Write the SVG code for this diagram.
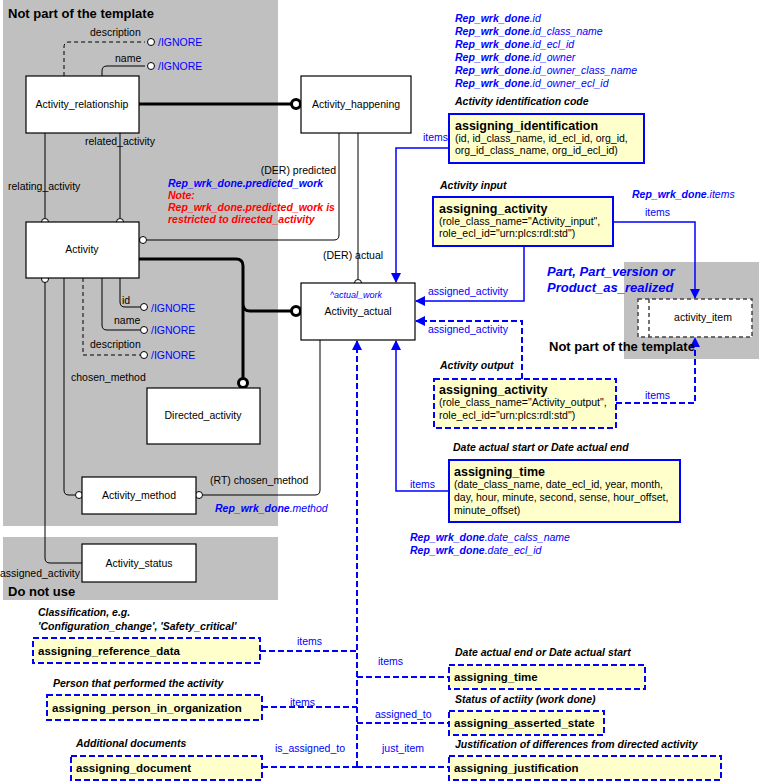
<svg xmlns="http://www.w3.org/2000/svg" width="760" height="781" viewBox="0 0 760 781">
<style>
text{font-family:"Liberation Sans",Arial,sans-serif;font-size:10.5px;fill:#000}
.bg{fill:#c0c0c0}
.n{fill:#fff;stroke:#000;stroke-width:1.2}
.y{fill:#ffffcc;stroke:#0000ff;stroke-width:2}
.yd{fill:#ffffcc;stroke:#0000ff;stroke-width:2;stroke-dasharray:6,3}
.c{fill:none;stroke:#000;stroke-width:1}
.cd{fill:none;stroke:#000;stroke-width:1;stroke-dasharray:4,3}
.ct{fill:none;stroke:#000;stroke-width:3}
.b{fill:none;stroke:#0000ff;stroke-width:1.5}
.bd{fill:none;stroke:#0000ff;stroke-width:2;stroke-dasharray:6,3}
.o{fill:#fff;stroke:#000;stroke-width:1}
.O{fill:#fff;stroke:#000;stroke-width:3}
.bl{fill:#0000ff}
.bi{fill:#0000ff;font-style:italic}
.bb{font-weight:bold}
.hd{font-weight:bold;font-size:13px}
.it{font-style:italic;font-weight:bold;font-size:10.5px}
.red{fill:#ff0000;font-style:italic;font-weight:bold}
.tt{font-weight:bold;font-size:12.5px}
.c1{text-anchor:middle}
</style>
<defs>
<marker id="a" markerWidth="10" markerHeight="10" refX="9" refY="5" orient="auto" markerUnits="userSpaceOnUse"><path d="M0,0 L10,5 L0,10 z" fill="#0000ff"/></marker>
</defs>
<rect class="bg" x="3" y="0" width="275" height="526"/>
<rect class="bg" x="3" y="537" width="275" height="63"/>
<rect class="bg" x="624" y="262" width="135" height="97"/>
<text class="hd" x="8" y="18">Not part of the template</text>
<text class="hd" x="8" y="596">Do not use</text>
<text class="hd bi" x="547" y="276">Part, Part_version or</text>
<text class="hd bi" x="547" y="292">Product_as_realized</text>

<g id="connectors">
<path class="cd" d="M64,76 V47 Q64,42 69,42 H145"/><circle class="o" cx="151" cy="42" r="3.5"/>
<path class="c" d="M102,76 V71 Q102,66 107,66 H145"/><circle class="o" cx="151" cy="66" r="3.5"/>
<path class="ct" d="M139,104 H292"/><circle class="O" cx="296" cy="104" r="4.5"/>
<path class="c" d="M45,133 V218"/><circle class="o" cx="45" cy="222" r="3.5"/>
<path class="c" d="M120,133 V218"/><circle class="o" cx="120" cy="222" r="3.5"/>
<path class="c" d="M339,133 V235 Q339,240 334,240 H147"/><circle class="o" cx="143" cy="240" r="3.5"/>
<path class="c" d="M358,133 V279"/><circle class="o" cx="358" cy="283" r="3.5"/>
<path class="ct" d="M139,259 H236 Q243,259 243,266 V378 M243,304 Q243,311 250,311 H291"/>
<circle class="O" cx="243" cy="383" r="4.5"/><circle class="O" cx="296" cy="311" r="4.5"/>
<path class="c" d="M120,278 V302 Q120,307 125,307 H140"/><circle class="o" cx="144" cy="307" r="3.5"/>
<path class="c" d="M102,278 V325 Q102,330 107,330 H140"/><circle class="o" cx="144" cy="330" r="3.5"/>
<path class="cd" d="M83,278 V355 H140"/><circle class="o" cx="144" cy="355" r="3.5"/>
<path class="c" d="M64,278 V490 Q64,495 69,495 H75"/><circle class="o" cx="79" cy="495" r="3.5"/>
<path class="c" d="M45,282 V558 Q45,563 50,563 H82"/><circle class="o" cx="45" cy="279" r="3.5"/>
<path class="c" d="M320,340 V490 Q320,495 315,495 H203"/><circle class="o" cx="199" cy="495" r="3.5"/>
<path class="b" d="M449,148 H396 V282" marker-end="url(#a)"/>
<path class="b" d="M524,246 V301 H416" marker-end="url(#a)"/>
<path class="b" d="M613,222 H695 V298" marker-end="url(#a)"/>
<path class="bd" d="M522,379 V321 H416" marker-end="url(#a)"/>
<path class="bd" d="M616,403 H695 V338" marker-end="url(#a)"/>
<path class="b" d="M449,491 H396 V341" marker-end="url(#a)"/>
<path class="bd" d="M357,767 V341" marker-end="url(#a)"/>
<path class="bd" d="M260,651 H357 M357,677 H449 M262,707 H357 M357,723 H449 M262,767 H357 M357,767 H449"/>
</g>

<g id="activity_relationship"><rect class="n" x="26" y="76" width="113" height="57"/><text class="c1" x="82" y="108">Activity_relationship</text></g>
<g id="activity_happening"><rect class="n" x="301" y="76" width="110" height="57"/><text class="c1" x="356" y="108">Activity_happening</text></g>
<g id="activity"><rect class="n" x="26" y="222" width="113" height="56"/><text class="c1" x="82" y="253">Activity</text></g>
<g id="activity_actual"><rect class="n" x="301" y="283" width="114" height="57"/><text class="bi c1" x="356" y="298" style="font-size:9px">^actual_work</text><text class="c1" x="358" y="315">Activity_actual</text></g>
<g id="directed_activity"><rect class="n" x="147" y="388" width="113" height="56"/><text class="c1" x="203" y="419">Directed_activity</text></g>
<g id="activity_method"><rect class="n" x="82" y="477" width="114" height="37"/><text class="c1" x="139" y="499">Activity_method</text></g>
<g id="activity_status"><rect class="n" x="82" y="544" width="114" height="38"/><text class="c1" x="139" y="567">Activity_status</text></g>
<g id="activity_item"><rect x="638" y="299" width="114" height="38" fill="#fff" stroke="#444" stroke-width="1.5" stroke-dasharray="4,3"/><line x1="649" y1="299" x2="649" y2="337" stroke="#444" stroke-width="1.5" stroke-dasharray="4,3"/><text class="c1" x="703" y="321">activity_item</text></g>
<text class="hd" x="549" y="351">Not part of the template</text>

<g id="assigning_identification"><rect class="y" x="449" y="114" width="195" height="49"/><text class="tt" x="455" y="130">assigning_identification</text><text x="455" y="142">(id, id_class_name, id_ecl_id, org_id,</text><text x="455" y="154">org_id_class_name, org_id_ecl_id)</text></g>
<g id="assigning_activity_input"><rect class="y" x="433" y="197" width="180" height="49"/><text class="tt" x="439" y="213">assigning_activity</text><text x="439" y="225">(role_class_name="Activity_input",</text><text x="439" y="237">role_ecl_id="urn:plcs:rdl:std")</text></g>
<g id="assigning_activity_output"><rect class="yd" x="434" y="379" width="182" height="49"/><text class="tt" x="439" y="394">assigning_activity</text><text x="439" y="406">(role_class_name="Activity_output",</text><text x="439" y="419">role_ecl_id="urn:plcs:rdl:std")</text></g>
<g id="assigning_time_1"><rect class="y" x="449" y="460" width="231" height="62"/><text class="tt" x="454" y="476">assigning_time</text><text x="454" y="488">(date_class_name, date_ecl_id, year, month,</text><text x="454" y="501">day, hour, minute, second, sense, hour_offset,</text><text x="454" y="514">minute_offset)</text></g>
<g id="assigning_reference_data"><rect class="yd" x="33" y="638" width="227" height="25"/><text class="bb" x="38" y="655" style="font-size:11.5px">assigning_reference_data</text></g>
<g id="assigning_person_in_organization"><rect class="yd" x="47" y="695" width="215" height="25"/><text class="bb" x="52" y="712" style="font-size:11.5px">assigning_person_in_organization</text></g>
<g id="assigning_document"><rect class="yd" x="71" y="756" width="191" height="24"/><text class="bb" x="76" y="772" style="font-size:11.5px">assigning_document</text></g>
<g id="assigning_time_2"><rect class="yd" x="449" y="665" width="196" height="24"/><text class="bb" x="454" y="681" style="font-size:11.5px">assigning_time</text></g>
<g id="assigning_asserted_state"><rect class="yd" x="449" y="711" width="155" height="24"/><text class="bb" x="454" y="727" style="font-size:11.5px">assigning_asserted_state</text></g>
<g id="assigning_justification"><rect class="yd" x="449" y="756" width="272" height="24"/><text class="bb" x="454" y="772" style="font-size:11.5px">assigning_justification</text></g>

<g id="labels">
<text x="90" y="36">description</text><text class="bl" x="158" y="46">/IGNORE</text>
<text x="115" y="62">name</text><text class="bl" x="158" y="70">/IGNORE</text>
<text x="85" y="145">related_activity</text>
<text x="8" y="190">relating_activity</text>
<text x="336" y="174" text-anchor="end">(DER) predicted</text>
<text class="bi" x="168" y="187"><tspan class="bb">Rep_wrk_done.predicted_work</tspan></text>
<text class="red" x="168" y="199">Note:</text>
<text class="red" x="168" y="211">Rep_wrk_done.predicted_work is</text>
<text class="red" x="168" y="223">restricted to directed_activity</text>
<text x="323" y="259">(DER) actual</text>
<text x="122" y="304">id</text><text class="bl" x="151" y="312">/IGNORE</text>
<text x="114" y="324">name</text><text class="bl" x="151" y="334">/IGNORE</text>
<text x="90" y="348">description</text><text class="bl" x="151" y="359">/IGNORE</text>
<text x="71" y="381">chosen_method</text>
<text x="210" y="484">(RT) chosen_method</text>
<text class="bi" x="215" y="512"><tspan class="bb">Rep_wrk_done</tspan>.method</text>
<text x="0" y="577">assigned_activity</text>
<text class="bi" x="455" y="22"><tspan class="bb">Rep_wrk_done</tspan>.id</text>
<text class="bi" x="455" y="35"><tspan class="bb">Rep_wrk_done</tspan>.id_class_name</text>
<text class="bi" x="455" y="48"><tspan class="bb">Rep_wrk_done</tspan>.id_ecl_id</text>
<text class="bi" x="455" y="61"><tspan class="bb">Rep_wrk_done</tspan>.id_owner</text>
<text class="bi" x="455" y="74"><tspan class="bb">Rep_wrk_done</tspan>.id_owner_class_name</text>
<text class="bi" x="455" y="87"><tspan class="bb">Rep_wrk_done</tspan>.id_owner_ecl_id</text>
<text class="it" x="455" y="105">Activity identification code</text>
<text class="bl" x="423" y="141">items</text>
<text class="it" x="440" y="189">Activity input</text>
<text class="bi" x="632" y="198"><tspan class="bb">Rep_wrk_done</tspan>.items</text>
<text class="bl" x="645" y="216">items</text>
<text class="bl" x="428" y="295">assigned_activity</text>
<text class="bl" x="428" y="333">assigned_activity</text>
<text class="it" x="440" y="369">Activity output</text>
<text class="bl" x="645" y="399">items</text>
<text class="it" x="453" y="451">Date actual start or Date actual end</text>
<text class="bl" x="410" y="488">items</text>
<text class="bi" x="410" y="541"><tspan class="bb">Rep_wrk_done</tspan>.date_calss_name</text>
<text class="bi" x="410" y="554"><tspan class="bb">Rep_wrk_done</tspan>.date_ecl_id</text>
<text class="it" x="38" y="616">Classification, e.g.</text>
<text class="it" x="38" y="630">'Configuration_change', 'Safety_critical'</text>
<text class="bl" x="297" y="645">items</text>
<text class="it" x="455" y="656">Date actual end or Date actual start</text>
<text class="bl" x="378" y="665">items</text>
<text class="it" x="53" y="687">Person that performed the activity</text>
<text class="bl" x="290" y="706">items</text>
<text class="it" x="455" y="703">Status of actiity (work done)</text>
<text class="bl" x="375" y="718">assigned_to</text>
<text class="it" x="76" y="747">Additional documents</text>
<text class="bl" x="275" y="752">is_assigned_to</text>
<text class="it" x="455" y="748">Justification of differences from directed activity</text>
<text class="bl" x="382" y="752">just_item</text>
</g>
</svg>
